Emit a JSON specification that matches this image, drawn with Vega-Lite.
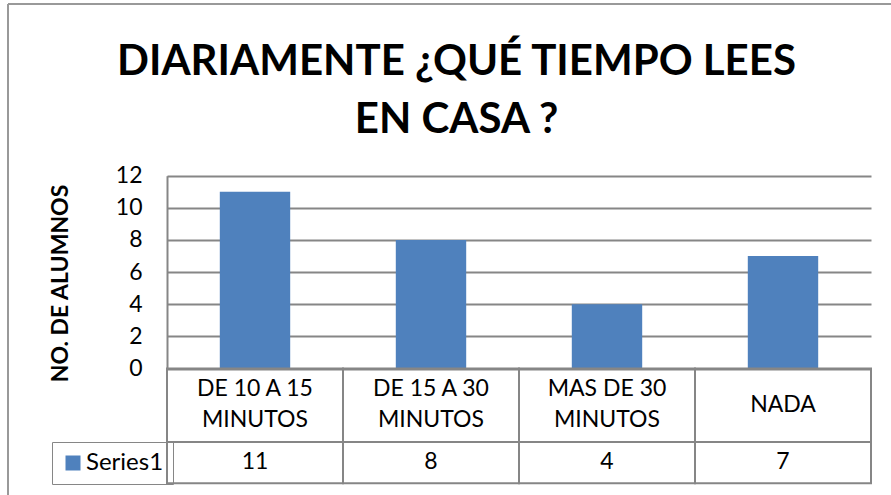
{
  "$schema": "https://vega.github.io/schema/vega-lite/v6.json",
  "width": 883,
  "height": 491,
  "autosize": {"type": "none"},
  "padding": {"left": 8, "top": 4, "right": 0, "bottom": 0},
  "background": "white",
  "title": {
    "text": ["DIARIAMENTE ¿QUÉ TIEMPO LEES", "EN CASA ?"],
    "font": "Lato",
    "fontSize": 42,
    "fontWeight": "bold",
    "color": "#000000",
    "anchor": "middle",
    "frame": "group",
    "baseline": "alphabetic",
    "lineHeight": 58,
    "offset": -171,
    "dx": 7
  },
  "data": {
    "values": [
      {"cat": "DE 10 A 15\nMINUTOS", "n": 11},
      {"cat": "DE 15 A 30\nMINUTOS", "n": 8},
      {"cat": "MAS DE 30\nMINUTOS", "n": 4},
      {"cat": "NADA", "n": 7}
    ]
  },
  "encoding": {
    "x": {
      "field": "cat",
      "type": "nominal",
      "sort": null,
      "axis": null,
      "scale": {"range": [159, 863], "paddingInner": 0.6, "paddingOuter": 0.3}
    }
  },
  "layer": [
    {
      "mark": {"type": "bar", "color": "#4F81BD"},
      "encoding": {
        "y": {
          "field": "n",
          "type": "quantitative",
          "scale": {"domain": [0, 12], "nice": false, "range": [364.5, 171.7]},
          "axis": {
            "title": "NO. DE ALUMNOS",
            "values": [0, 2, 4, 6, 8, 10, 12],
            "offset": -159,
            "ticks": false,
            "labelPadding": 25,
            "labelFont": "Lato",
            "labelFontSize": 23,
            "labelColor": "#000000",
            "domainColor": "#868686",
            "domainWidth": 2,
            "grid": true,
            "gridColor": "#868686",
            "gridWidth": 2,
            "titleFont": "Lato",
            "titleFontSize": 23,
            "titleFontWeight": "bold",
            "titleColor": "#000000",
            "titleX": -95,
            "titleY": 279,
            "titleAnchor": null
          }
        },
        "color": {
          "datum": "Series1",
          "type": "nominal",
          "scale": {"range": ["#4F81BD"]},
          "legend": {
            "title": null,
            "orient": "none",
            "legendX": 44,
            "legendY": 438,
            "strokeColor": "#868686",
            "padding": 9,
            "symbolType": "square",
            "symbolSize": 225,
            "symbolStrokeWidth": 0,
            "symbolOpacity": 1,
            "labelFont": "Lato",
            "labelFontSize": 24,
            "labelColor": "#000000",
            "labelOffset": 1
          }
        }
      }
    },
    {
      "mark": {"type": "rect", "fill": null, "fillOpacity": 0, "stroke": "#868686", "strokeWidth": 2, "width": {"band": 2.5}},
      "encoding": {
        "y": {"datum": 0, "type": "quantitative"},
        "y2": {"datum": -4.574}
      }
    },
    {
      "mark": {"type": "rect", "fill": null, "fillOpacity": 0, "stroke": "#868686", "strokeWidth": 2, "width": {"band": 2.5}},
      "encoding": {
        "y": {"datum": -4.574, "type": "quantitative"},
        "y2": {"datum": -7.14}
      }
    },
    {
      "transform": [{"filter": "indexof(datum.cat, '\\n') >= 0"}],
      "mark": {"type": "text", "font": "Lato", "fontSize": 23, "color": "#000000", "lineBreak": "\n", "lineHeight": 31, "baseline": "middle", "align": "center"},
      "encoding": {
        "y": {"datum": -1.28, "type": "quantitative"},
        "text": {"field": "cat"}
      }
    },
    {
      "transform": [{"filter": "indexof(datum.cat, '\\n') < 0"}],
      "mark": {"type": "text", "font": "Lato", "fontSize": 23, "color": "#000000", "baseline": "middle", "align": "center"},
      "encoding": {
        "y": {"datum": -2.27, "type": "quantitative"},
        "text": {"field": "cat"}
      }
    },
    {
      "mark": {"type": "text", "font": "Lato", "fontSize": 23, "color": "#000000", "baseline": "middle", "align": "center"},
      "encoding": {
        "y": {"datum": -5.85, "type": "quantitative"},
        "text": {"field": "n", "type": "quantitative"}
      }
    }
  ],
  "config": {
    "font": "Lato",
    "view": {"stroke": "#999999", "strokeWidth": 2, "strokeDash": [883, 1374, 491, 0]}
  }
}
